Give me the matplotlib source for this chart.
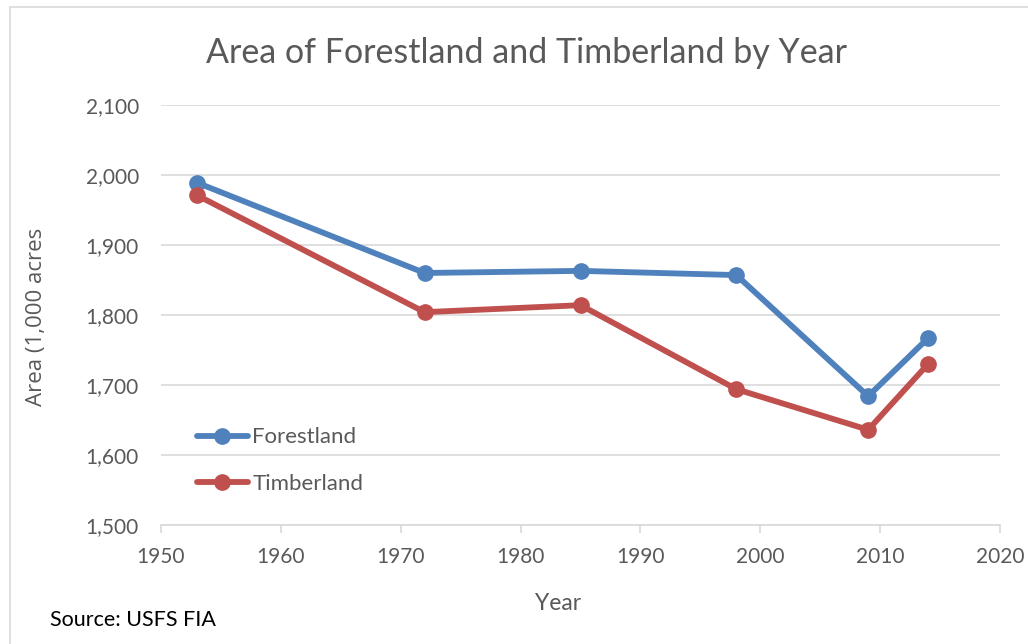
import matplotlib
matplotlib.use("Agg")
from matplotlib import pyplot as plt
from matplotlib.patches import Rectangle
from matplotlib.ticker import FuncFormatter

# data
years = [1953, 1972, 1985, 1998, 2009, 2014]
forestland = [1989, 1860, 1863, 1857, 1684, 1767]
timberland = [1971, 1804, 1814, 1694, 1636, 1730]

blue = '#4f81bd'
red = '#c0504d'
txt = '#595959'

plt.rcParams['font.family'] = ['Lato', 'DejaVu Sans']

fig = plt.figure(figsize=(10.28, 6.44), dpi=100)
ax = fig.add_axes([0.1566, 0.1848, 0.8162, 0.6522])

# chart border
fig.patches.append(Rectangle((10 / 1028, -0.01), 1.1, 1 - 7 / 644 + 0.01, transform=fig.transFigure,
                             fill=False, edgecolor='#d9d9d9', linewidth=1.2))

ax.plot(years, forestland, color=blue, lw=4.2, marker='o', ms=11, label='Forestland', solid_capstyle='round')
ax.plot(years, timberland, color=red, lw=4.2, marker='o', ms=11, label='Timberland', solid_capstyle='round')

ax.set_xlim(1950, 2020)
ax.set_ylim(1500, 2100)
ax.set_xticks(range(1950, 2021, 10))
ax.set_yticks(range(1500, 2101, 100))
ax.yaxis.set_major_formatter(FuncFormatter(lambda v, p: f'{int(v):,}'))
ax.grid(axis='y', color='#d9d9d9', lw=1.2)
ax.set_axisbelow(True)
for s in ['left', 'right', 'top']:
    ax.spines[s].set_visible(False)
ax.spines['bottom'].set_color('#d9d9d9')
ax.spines['bottom'].set_linewidth(1.2)
ax.tick_params(axis='x', colors='#d9d9d9', labelcolor=txt, labelsize=15, length=6, width=1.2, pad=10)
ax.tick_params(axis='y', length=0, labelcolor=txt, labelsize=15, pad=16)

fig.text(526 / 1028, 1 - 53 / 644, 'Area of Forestland and Timberland by Year', ha='center', va='center',
         fontsize=24.5, color=txt)
fig.text(558 / 1028, 1 - 603 / 644, 'Year', ha='center', va='center', fontsize=16.5, color=txt)
fig.text(37 / 1028, 1 - 317 / 644, 'Area (1,000 acres', ha='center', va='center', rotation=90,
         fontsize=16, color=txt, family=['Open Sans', 'DejaVu Sans'])
fig.text(50 / 1028, 1 - 620 / 644, 'Source: USFS FIA', ha='left', va='center', fontsize=15.5, color='black')

leg = ax.legend(loc='upper left', bbox_to_anchor=(0.019, 0.28), frameon=False, fontsize=16,
                handlelength=2.3, handletextpad=0.2, labelspacing=1.2, labelcolor=txt)

fig.savefig('out.png', dpi=100)
